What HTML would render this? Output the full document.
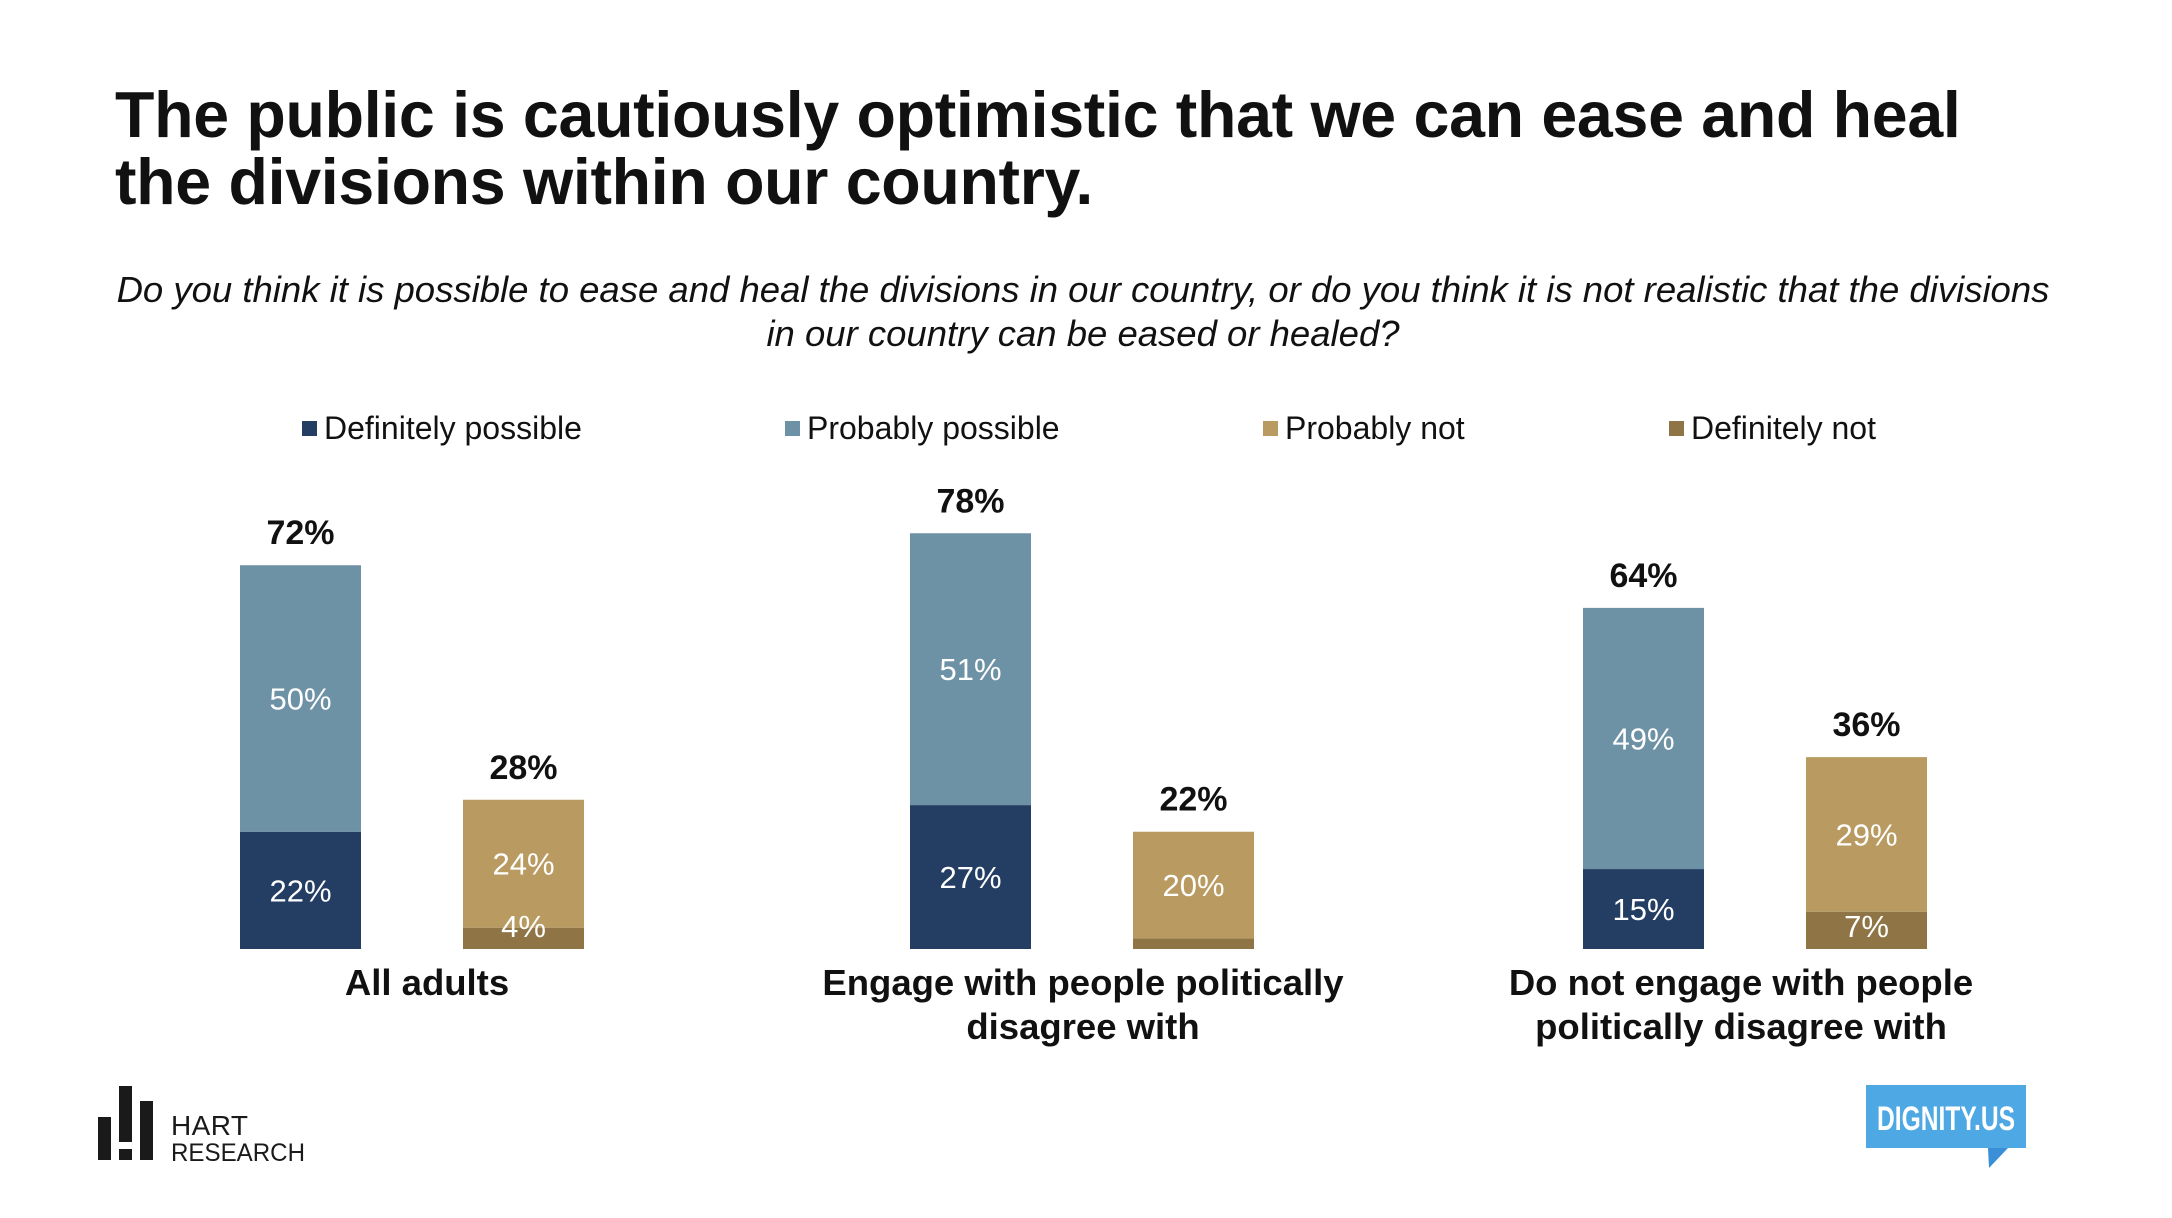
<!DOCTYPE html>
<html><head><meta charset="utf-8">
<style>
html,body{margin:0;padding:0;background:#fff;}
body{width:2172px;height:1218px;overflow:hidden;position:relative;font-family:"Liberation Sans",Arial,sans-serif;}
#title{position:absolute;left:115px;top:82px;font-size:64.5px;font-weight:bold;line-height:67px;color:#111;margin:0;letter-spacing:-0.3px;}
#subtitle{position:absolute;left:0;width:2166px;top:268px;text-align:center;font-size:36.5px;font-style:italic;line-height:44px;color:#111;}
svg{position:absolute;left:0;top:0;}
</style></head>
<body>
<h1 id="title">The public is cautiously optimistic that we can ease and heal<br>the divisions within our country.</h1>
<div id="subtitle">Do you think it is possible to ease and heal the divisions in our country, or do you think it is not realistic that the divisions<br>in our country can be eased or healed?</div>
<svg id="chart" width="2172" height="1218"></svg>
<script>
const categories = [["All adults"], ["Engage with people politically", "disagree with"], ["Do not engage with people", "politically disagree with"]];
const seriesNames = ["Definitely possible", "Probably possible", "Probably not", "Definitely not"];
const definitelyPossible = [22, 27, 15];
const probablyPossible = [50, 51, 49];
const probablyNot = [24, 20, 29];
const definitelyNot = [4, 2, 7];
const possibleTotals = [72, 78, 64];
const notTotals = [28, 22, 36];
const showDefNotLabel = [true, false, true];

const colors = ["#243d63", "#6d91a5", "#b99b62", "#8f7545"];
const NS = "http://www.w3.org/2000/svg";
const svg = document.getElementById("chart");
const baseY = 949, pxPer = 5.33, barW = 121;
const groupX = [240, 910, 1583];
const barGap = 223;
const labelCenters = [427, 1083, 1741];
function y(v){ return baseY - v*pxPer; }
function h(v){ return v*pxPer; }
function mk(tag, attrs, parent){ const e=document.createElementNS(NS,tag); for(const k in attrs) e.setAttribute(k,attrs[k]); (parent||svg).appendChild(e); return e; }
function txt(x,yy,s,size,weight,fill,parent){ const t=mk("text",{x:x,y:yy,"text-anchor":"middle","font-size":size,"font-weight":weight,fill:fill,"font-family":"Liberation Sans, Arial, sans-serif"},parent); t.textContent=s; return t; }

// legend
const legX = [302, 785, 1263, 1669];
seriesNames.forEach((n,i)=>{
  const g=mk("g",{});
  
  
  mk("rect",{x:legX[i],y:421,width:15,height:15,fill:colors[i]},g);
  const t=mk("text",{x:legX[i]+22,y:439,"font-size":32,fill:"#111","font-family":"Liberation Sans, Arial, sans-serif"},g);
  t.textContent=n;
});

function labelY(bottom,val){ return Math.min(y(bottom+val/2)+11, baseY-12); }
function seg(x,bottom,val,color,label,name){
  const r=mk("rect",{x:x,y:y(bottom+val),width:barW,height:h(val),fill:color});
  
  
  if(label){ const t=txt(x+barW/2,labelY(bottom,val),val+"%",31,"normal","#fff");
    
     }
}
categories.forEach((c,i)=>{
  const x1=groupX[i], x2=groupX[i]+barGap;
  seg(x1,0,definitelyPossible[i],colors[0],true,'bar-definitely-possible');
  seg(x1,definitelyPossible[i],probablyPossible[i],colors[1],true,'bar-probably-possible');
  const tp=definitelyPossible[i]+probablyPossible[i];
  let t=txt(x1+barW/2,y(tp)-21,possibleTotals[i]+"%",34,"bold","#111");
  
  
  seg(x2,0,definitelyNot[i],colors[3],false,'bar-definitely-not');
  seg(x2,definitelyNot[i],probablyNot[i],colors[2],true,'bar-probably-not');
  if(showDefNotLabel[i]){ const l=txt(x2+barW/2,labelY(0,definitelyNot[i]),definitelyNot[i]+"%",31,"normal","#fff");
    
     }
  const tn=definitelyNot[i]+probablyNot[i];
  t=txt(x2+barW/2,y(tn)-21,notTotals[i]+"%",34,"bold","#111");
  
  
  c.forEach((line,j)=>{
    const cl=txt(labelCenters[i],995+j*44,line,36.5,"bold","#111");
    
    
  });
});
</script>
<svg width="2172" height="1218" style="position:absolute;left:0;top:0">
  <g>
    <rect x="98" y="1117" width="13" height="43" fill="#1a1a1a"/>
    <rect x="119" y="1086" width="13" height="56" fill="#1a1a1a"/>
    <rect x="119" y="1149" width="13" height="11" fill="#1a1a1a"/>
    <rect x="140" y="1101" width="13" height="59" fill="#1a1a1a"/>
    <text x="171" y="1135" font-size="28" fill="#1a1a1a" font-family="Liberation Sans, Arial, sans-serif" textLength="77">HART</text>
    <text x="171" y="1161" font-size="25" fill="#1a1a1a" font-family="Liberation Sans, Arial, sans-serif" textLength="134" lengthAdjust="spacingAndGlyphs">RESEARCH</text>
  </g>
  <g>
    <rect x="1866" y="1085" width="160" height="63" fill="#4ea8e3"/>
    <polygon points="1988,1148 2008,1148 1989,1168" fill="#3a8fd6"/>
    <text x="1877" y="1130" font-size="34" font-weight="bold" fill="#fff" font-family="Liberation Sans Narrow, Liberation Sans, sans-serif" textLength="138" lengthAdjust="spacingAndGlyphs">DIGNITY.US</text>
  </g>
</svg>
</body></html>
